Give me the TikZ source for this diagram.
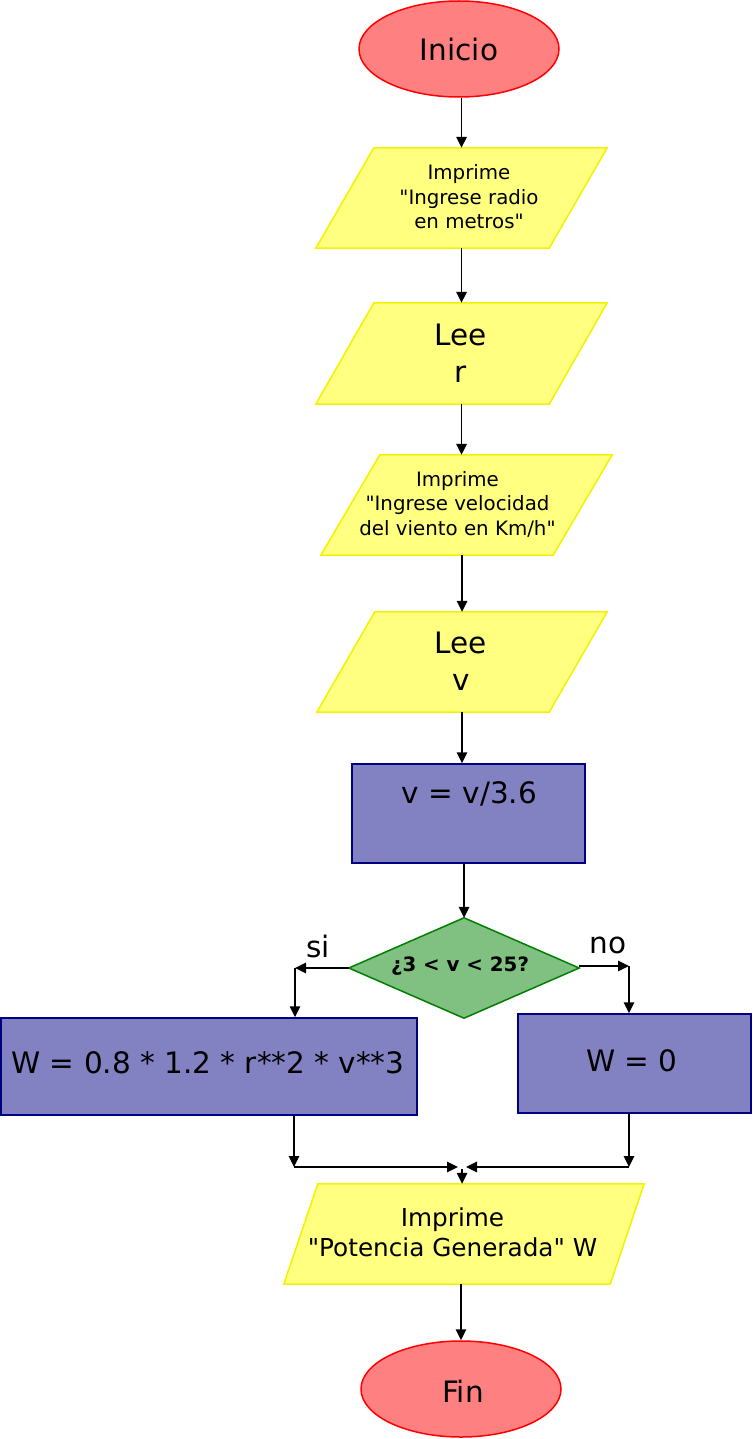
\documentclass[tikz,border=0pt]{standalone}
\usepackage{fontspec}
\setmainfont{DejaVu Sans}[Ligatures=TeXOff]
\usetikzlibrary{shapes.geometric,arrows.meta,calc}
\definecolor{termfill}{HTML}{FF8080}
\definecolor{termline}{HTML}{FF0000}
\definecolor{iofill}{HTML}{FFFF80}
\definecolor{ioline}{HTML}{F2F200}
\definecolor{procfill}{HTML}{8282C2}
\definecolor{procline}{HTML}{000080}
\definecolor{decfill}{HTML}{80C080}
\definecolor{decline}{HTML}{008000}
\newcommand\iobox[2]{\draw[iopath] (#1.south west) -- ($(#1.south east)+(-#2,0)$) -- (#1.north east) -- ($(#1.north west)+(#2,0)$) -- cycle;}
\begin{document}
\begin{tikzpicture}[x=1pt,y=-1pt,
  term/.style={ellipse, draw=termline, fill=termfill, line width=1.5pt, minimum width=200pt, minimum height=96pt, inner sep=0pt},
  box/.style={rectangle, draw=none, inner sep=0pt},
  proc/.style={rectangle, draw=procline, fill=procfill, line width=1.5pt, inner sep=0pt},
  iopath/.style={draw=ioline, fill=iofill, line width=1.5pt},
  decpath/.style={draw=decline, fill=decfill, line width=1.5pt},
  big/.style={font=\fontsize{29.5}{37}\selectfont, align=center, inner sep=0pt},
  small/.style={font=\fontsize{19.8}{24.5}\selectfont, align=center, inner sep=0pt},
  mid/.style={font=\fontsize{24.7}{30}\selectfont, align=center, inner sep=0pt},
  cond/.style={font=\fontsize{19.8}{24}\selectfont\bfseries, align=center, inner sep=0pt},
  arr/.style={-{Triangle[length=11pt,width=10.5pt]}, line width=1.6pt, black}]
\useasboundingbox (0,0) rectangle (752,1439);
% shapes
\node[term] (ini) at (459,49) {};
\node[box, minimum width=291pt, minimum height=100pt] (p1) at (461.5,198) {};
\node[box, minimum width=291pt, minimum height=101pt] (p2) at (461.5,353.5) {};
\node[box, minimum width=291pt, minimum height=100pt] (p3) at (466.5,505) {};
\node[box, minimum width=290pt, minimum height=100pt] (p4) at (462,662) {};
\node[proc, minimum width=233pt, minimum height=99pt] (r1) at (468.5,813.5) {};
\node[box, minimum width=230pt, minimum height=100pt] (d) at (464,968) {};
\node[proc, minimum width=416pt, minimum height=97pt] (r2) at (209,1066.5) {};
\node[proc, minimum width=233pt, minimum height=99pt] (r3) at (634.5,1063.5) {};
\node[box, minimum width=360pt, minimum height=100pt] (p5) at (464,1234) {};
\node[term] (fin) at (461,1389) {};
\iobox{p1}{58}
\iobox{p2}{58}
\iobox{p3}{59}
\iobox{p4}{58}
\iobox{p5}{34}
\draw[decpath] (d.west) -- (d.north) -- (d.east) -- (d.south) -- cycle;
% texts
\node[big] (t0) at (459,50) {Inicio};
\node[small] (t1) at (469,197) {Imprime\\"Ingrese radio\\en metros"};
\node[big] (t2) at (461,353) {Lee\\r};
\node[small] (t3) at (457.5,504) {Imprime\\"Ingrese velocidad\\del viento en Km/h"};
\node[big] (t4) at (461,661.5) {Lee\\v};
\node[big] (t5) at (469.5,794) {v = v/3.6};
\node[cond] (t6) at (460,966) {¿3 < v < 25?};
\node[big] (t7) at (208,1063) {W = 0.8 * 1.2 * r**2 * v**3};
\node[big] (t8) at (632,1061) {W = 0};
\node[mid] (t9) at (452.5,1232) {Imprime\\"Potencia Generada" W};
\node[big] (t10) at (463,1391) {Fin};
\node[big] (si) at (318,946) {si};
\node[big] (no) at (608,945) {no};
% connector points
\coordinate (cl) at (295,968);
\coordinate (cr) at (629,966);
\coordinate (bl) at (294,1167);
\coordinate (br) at (629,1167);
\coordinate (ml) at (458,1167);
\coordinate (mr) at (466,1167);
\coordinate (mt) at (462,1169);
% connectors
\draw[arr] (p1.north |- ini.south) -- (p1.north);
\draw[arr] (p1.south) -- (p2.north);
\draw[arr] (p2.south) -- (p2.south |- p3.north);
\draw[arr] (p3.south -| p4.north) -- (p4.north);
\draw[arr] (p4.south) -- (p4.south |- r1.north);
\draw[arr] (d.north |- r1.south) -- (d.north);
\draw[arr] (d.west) -- (cl);
\draw[arr] (cl) -- (cl |- r2.north);
\draw[arr] (d.east |- cr) -- (cr);
\draw[arr] (cr) -- (cr |- r3.north);
\draw[arr] (r2.south -| bl) -- (bl);
\draw[arr] (bl) -- (ml);
\draw[arr] (r3.south -| br) -- (br);
\draw[arr] (br) -- (mr);
\draw[arr] (mt) -- (mt |- p5.north);
\draw[arr] (p5.south -| fin.north) -- (fin.north);
\end{tikzpicture}
\end{document}
